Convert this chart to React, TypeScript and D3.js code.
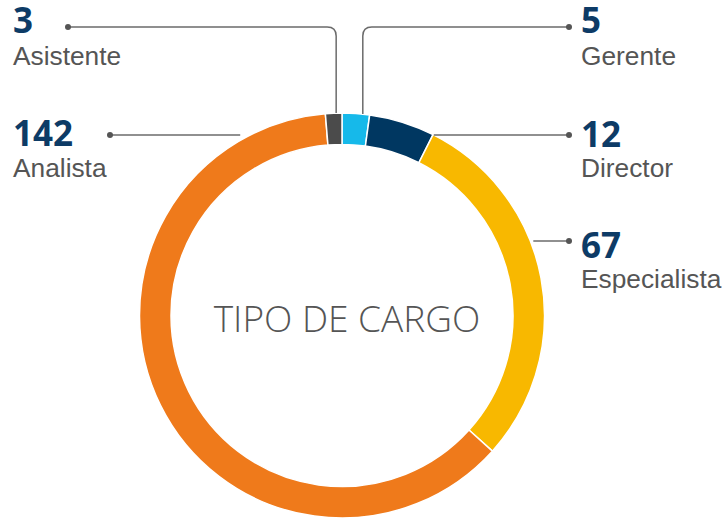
import React from "react";
import * as d3 from "d3";

const categories = ["Gerente", "Director", "Especialista", "Analista", "Asistente"];
const values = [5, 12, 67, 142, 3];
const colors = ["#16b9ea", "#003761", "#f8b800", "#ef7a1b", "#4b4b4b"];
const centerTitle = "TIPO DE CARGO";

// layout of labels (positions only)
type LabelLayout = {
  side: "left" | "right";
  numY: number;
  nameY: number;
  lineY: number;
  dotX: number;
  kind: "elbow" | "flat";
  shift: number; // angle shift (fraction of arc) for elbow anchor, or gap for flat
};
const layout: Record<string, LabelLayout> = {
  Asistente: { side: "left", numY: 33, nameY: 65, lineY: 27, dotX: 68, kind: "elbow", shift: 0.65 },
  Analista: { side: "left", numY: 146, nameY: 177, lineY: 135, dotX: 110, kind: "flat", shift: 10 },
  Gerente: { side: "right", numY: 33, nameY: 65, lineY: 27, dotX: 569, kind: "elbow", shift: 0.75 },
  Director: { side: "right", numY: 147, nameY: 177, lineY: 135, dotX: 569, kind: "flat", shift: 0 },
  Especialista: { side: "right", numY: 258, nameY: 288, lineY: 241, dotX: 569, kind: "flat", shift: -3 },
};

const W = 728;
const H = 520;
const cx = 342;
const cy = 315.5;
const R = 202.5;
const r = 171;

export default function App() {
  const pie = d3
    .pie<number>()
    .sort(null)
    .value((d) => d)
    .startAngle(0)
    .endAngle(2 * Math.PI);
  const arcs = pie(values);
  const arcGen = d3.arc<d3.PieArcDatum<number>>().innerRadius(r).outerRadius(R);

  const leaders = arcs.map((a, i) => {
    const name = categories[i];
    const L = layout[name];
    let path = "";
    if (L.kind === "elbow") {
      const ang = a.startAngle + (a.endAngle - a.startAngle) * L.shift;
      const vx = R * Math.sin(ang);
      const vyRing = -Math.sqrt(R * R - vx * vx);
      const ly = L.lineY - cy;
      const dx = L.dotX - cx;
      const rad = 9;
      const dir = dx < vx ? 1 : -1;
      path = `M${dx},${ly} L${vx - dir * rad},${ly} Q${vx},${ly} ${vx},${ly + rad} L${vx},${vyRing}`;
    } else {
      const ly = L.lineY - cy;
      const hx = Math.sqrt(R * R - ly * ly);
      const dx = L.dotX - cx;
      const endX = L.side === "left" ? -hx - L.shift : hx - L.shift;
      path = `M${dx},${ly} L${endX},${ly}`;
    }
    return { name, L, path, value: values[i] };
  });

  return (
    <div style={{ position: "absolute", left: 0, top: 0 }}>
      <svg width={W} height={H} style={{ display: "block" }}>
        <rect width={W} height={H} fill="#ffffff" />
        <g transform={`translate(${cx},${cy})`}>
          {arcs.map((a, i) => (
            <path key={categories[i]} d={arcGen(a) || ""} fill={colors[i]} stroke="#ffffff" strokeWidth={1.5} />
          ))}
          {leaders.map((l) => (
            <g key={l.name}>
              <path d={l.path} fill="none" stroke="#6b6b6b" strokeWidth={1.5} />
              <circle cx={l.L.dotX - cx} cy={l.L.lineY - cy} r={3} fill="#555555" />
            </g>
          ))}
          <text
            x={5}
            y={332 - cy}
            textAnchor="middle"
            fontFamily="'Open Sans', sans-serif"
            fontWeight={300}
            fontSize={37}
            fill="#555555"
          >
            {centerTitle}
          </text>
        </g>
        {leaders.map((l) => {
          const x = l.L.side === "left" ? 13 : 581;
          return (
            <g key={l.name + "-t"}>
              <text x={x} y={l.L.numY} fontFamily="'Open Sans', sans-serif" fontWeight={700} fontSize={35} fill="#0d3b66">
                {l.value}
              </text>
              <text x={x} y={l.L.nameY} fontFamily="'Liberation Sans', Arial, sans-serif" fontSize={26.3} fill="#555555">
                {l.name}
              </text>
            </g>
          );
        })}
      </svg>
    </div>
  );
}
